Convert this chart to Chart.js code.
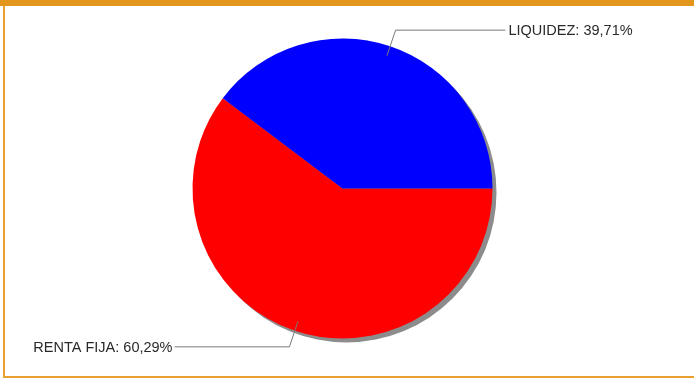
<!DOCTYPE html>
<html>
<head>
<meta charset="utf-8">
<script src="https://cdn.jsdelivr.net/npm/chart.js@4"></script>
<style>
  body { margin: 0; background: #fff; }
  #wrap { position: relative; width: 694px; height: 379px; overflow: hidden; }
  #topbar { position: absolute; left: 0; top: 0; width: 694px; height: 6px; background: #e2961c; }
  #frame { position: absolute; left: 3px; top: 0; width: 720px; height: 378px;
           border-left: 2px solid #e8a030; border-bottom: 2px solid #e8a030; box-sizing: border-box; }
  canvas { position: absolute; left: 0; top: 0; }
</style>
</head>
<body>
<div id="wrap">
  <div id="frame"></div>
  <div id="topbar"></div>
  <canvas id="pie" width="694" height="379"></canvas>
</div>
<script>
// slice data
let categories = ["RENTA FIJA", "LIQUIDEZ"];
let values = [60.29, 39.71];
let colors = ["#ff0000", "#0000ff"];

function fmtPct(v){
    return v.toFixed(2).replace(".", ",") + "%";
}

// gray drop shadow under the pie, like the old java charts
let shadowPlugin = {
    id: "pieShadow",
    beforeDatasetsDraw(chart){
        let arc = chart.getDatasetMeta(0).data[0];
        let c = chart.ctx;
        c.save();
        c.fillStyle = "#8c8c8c";
        c.beginPath();
        c.arc(arc.x + 4, arc.y + 4, arc.outerRadius, 0, Math.PI * 2);
        c.fill();
        c.restore();
    }
};

// labels with elbow link lines
let linkPlugin = {
    id: "linkLabels",
    afterDatasetsDraw(chart){
        let c = chart.ctx;
        let meta = chart.getDatasetMeta(0);
        c.save();
        c.font = "14.5px 'Liberation Sans', Arial, sans-serif";
        c.textBaseline = "middle";
        meta.data.forEach((arc, i) => {
            let mid = (arc.startAngle + arc.endAngle) / 2;
            let r = arc.outerRadius;
            let x0 = arc.x + Math.cos(mid) * (r - 10);
            let y0 = arc.y + Math.sin(mid) * (r - 10);
            let x1 = arc.x + Math.cos(mid) * (r + 17);
            let y1 = arc.y + Math.sin(mid) * (r + 17);
            let right = Math.cos(mid) >= 0;
            let x2 = right ? arc.x + 163 : arc.x - 168;
            c.strokeStyle = "#7a7a7a";
            c.lineWidth = 1;
            c.beginPath();
            c.moveTo(x0, y0);
            c.lineTo(x1, y1);
            c.lineTo(x2, y1);
            c.stroke();
            c.fillStyle = "#2a2a2a";
            let txt = categories[i] + ": " + fmtPct(values[i]);
            c.textAlign = right ? "left" : "right";
            c.fillText(txt, right ? x2 + 3 : x2 - 2, y1 + 1);
        });
        c.restore();
    }
};

let cht = new Chart(document.getElementById("pie"), {
    type: "pie",
    data: {
        labels: categories,
        datasets: [{
            data: values,
            backgroundColor: colors,
            borderWidth: 0
        }]
    },
    options: {
        responsive: false,
        animation: false,
        rotation: 90,
        layout: { padding: { top: 38.5, bottom: 40.5, left: 0, right: 9 } },
        plugins: {
            legend: { display: false },
            tooltip: { enabled: false }
        }
    },
    plugins: [shadowPlugin, linkPlugin]
});
</script>
</body>
</html>
